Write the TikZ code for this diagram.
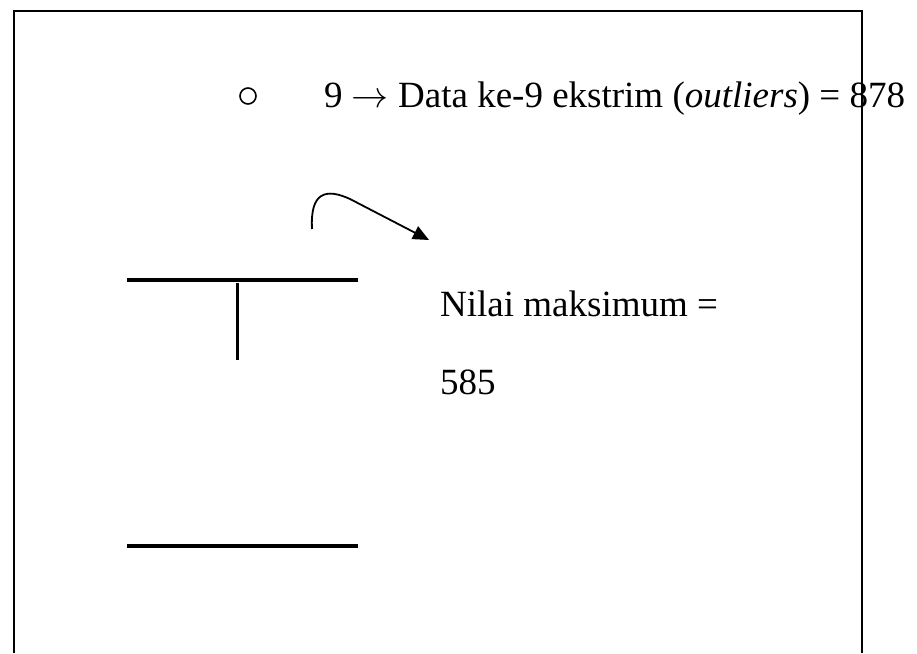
\RequirePackage{fix-cm}
\documentclass[tikz,border=0pt]{standalone}
\usepackage{fontspec}
\setmainfont{Liberation Serif}
\usetikzlibrary{arrows.meta}
\begin{document}
\begin{tikzpicture}[x=1pt,y=-1pt,
  txt/.style={anchor=base west,inner sep=0pt,font=\fontsize{37}{40}\selectfont},
  bar/.style={line width=4pt},
  frame/.style={line width=2pt}]
\useasboundingbox (0,0) rectangle (917,653);
% frame (open at bottom)
\draw[frame] (14,653) -- (14,11) -- (862,11) -- (862,653);
% bullet and top text
\node[circle,draw,line width=1.6pt,minimum size=16pt,inner sep=0pt] (bul) at (248,96) {};
\node[txt] (top) at (324,107) {9 $\rightarrow$ Data ke-9 ekstrim (\textit{outliers}) = 878};
% whisker lines
\coordinate (t1) at (127,280);
\coordinate (t2) at (358,280);
\coordinate (v1) at (237,283);
\coordinate (v2) at (237,360);
\coordinate (b1) at (127,546);
\coordinate (b2) at (358,546);
\draw[bar] (t1) -- (t2);
\draw[line width=3pt] (v1) -- (v2);
\draw[bar] (b1) -- (b2);
% labels
\node[txt] (max) at (440,316) {Nilai maksimum =};
\node[txt] (val) at (440,394) {585};
% curved arrow
\coordinate (c0) at (312,229);
\coordinate (c1) at (350,199);
\coordinate (c2) at (429,240);
\draw[line width=1.8pt,-{Triangle[length=16pt,width=14pt]}] (c0) .. controls (310,192) and (326,188) .. (c1) -- (c2);
\end{tikzpicture}
\end{document}
